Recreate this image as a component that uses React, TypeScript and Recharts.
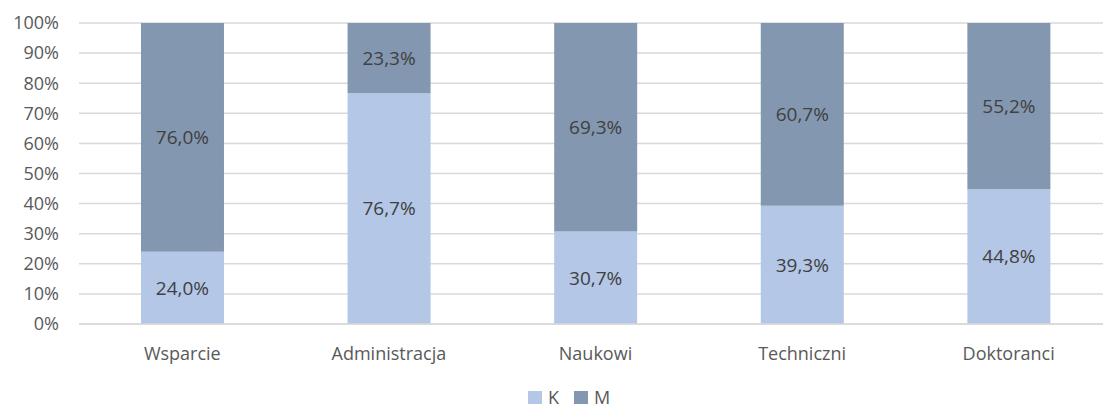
import React from 'react';
import {
  BarChart,
  Bar,
  XAxis,
  YAxis,
  CartesianGrid,
  Legend,
  LabelList,
} from 'recharts';

const categories = ['Wsparcie', 'Administracja', 'Naukowi', 'Techniczni', 'Doktoranci'];
const womenShare = [24.0, 76.7, 30.7, 39.3, 44.8];
const menShare = [76.0, 23.3, 69.3, 60.7, 55.2];
const yTicks = [0, 10, 20, 30, 40, 50, 60, 70, 80, 90, 100];

const data = categories.map((name, i) => ({
  name,
  K: womenShare[i],
  M: menShare[i],
}));

const FONT = '"Open Sans", sans-serif';
const K_COLOR = '#B4C7E7';
const M_COLOR = '#8497B0';

const fmtPct = (v: any) => `${Number(v).toFixed(1).replace('.', ',')}%`;

const LegendBox = () => (
  <div
    style={{
      display: 'flex',
      justifyContent: 'center',
      alignItems: 'center',
      paddingLeft: 26,
      height: 22,
      fontFamily: FONT,
      fontSize: 18,
      color: '#595959',
      lineHeight: '22px',
    }}
  >
    <span style={{ width: 14, height: 13, background: K_COLOR, marginRight: 6 }} />
    <span style={{ marginRight: 15 }}>K</span>
    <span style={{ width: 14, height: 13, background: M_COLOR, marginRight: 6 }} />
    <span>M</span>
  </div>
);

const App: React.FC = () => {
  return (
    <div
      style={{
        position: 'absolute',
        left: 0,
        top: 0,
        width: 1103,
        height: 410,
        overflow: 'hidden',
        background: '#fff',
      }}
    >
      <BarChart
        width={1115}
        height={410}
        data={data}
        margin={{ top: 23, right: 3, left: 0, bottom: 2 }}
        barCategoryGap="30%"
      >
        <CartesianGrid vertical={false} stroke="#D9D9D9" strokeWidth={1.5} />
        <XAxis
          dataKey="name"
          height={62}
          tickLine={false}
          axisLine={{ stroke: '#D9D9D9', strokeWidth: 1.5 }}
          tickMargin={17}
          tick={{ fill: '#595959', fontSize: 18, fontFamily: FONT }}
        />
        <YAxis
          width={79}
          domain={[0, 100]}
          ticks={yTicks}
          interval={0}
          axisLine={false}
          tickLine={false}
          tickMargin={14}
          tickFormatter={(v) => `${v}%`}
          tick={{ fill: '#595959', fontSize: 18, fontFamily: FONT }}
        />
        <Legend
          verticalAlign="bottom"
          height={22}
          content={() => <LegendBox />}
        />
        <Bar dataKey="K" stackId="a" fill={K_COLOR} isAnimationActive={false}>
          <LabelList
            dataKey="K"
            position="center"
            formatter={fmtPct}
            style={{ fill: '#404040', fontSize: 19, fontFamily: FONT }}
          />
        </Bar>
        <Bar dataKey="M" stackId="a" fill={M_COLOR} isAnimationActive={false}>
          <LabelList
            dataKey="M"
            position="center"
            formatter={fmtPct}
            style={{ fill: '#404040', fontSize: 19, fontFamily: FONT }}
          />
        </Bar>
      </BarChart>
    </div>
  );
};

export default App;
